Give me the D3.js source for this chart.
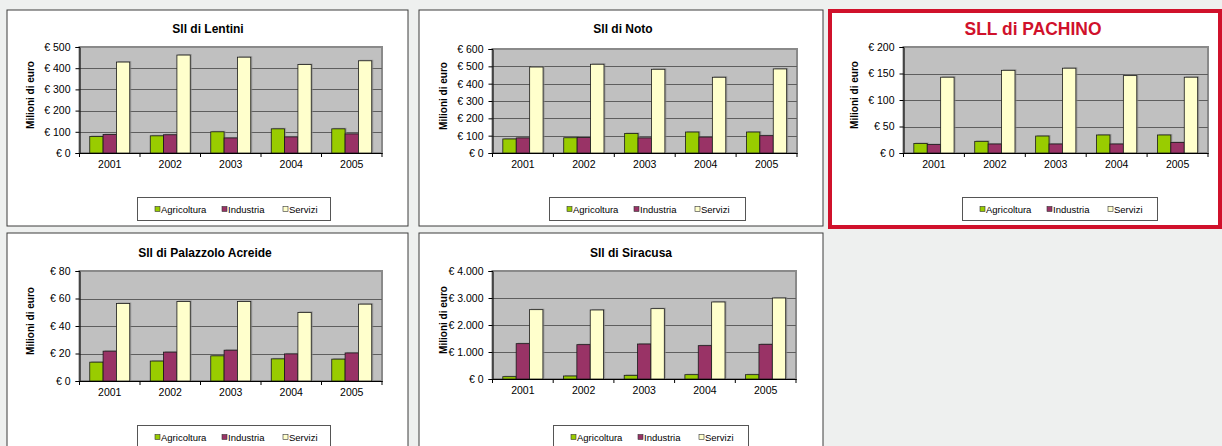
<!DOCTYPE html>
<html>
<head>
<meta charset="utf-8">
<script src="https://cdn.jsdelivr.net/npm/d3@7"></script>
<style>
  html, body { margin: 0; padding: 0; background: #eef0ef; }
  svg { display: block; font-family: "Liberation Sans", Arial, sans-serif; }
</style>
</head>
<body>
<div id="chart"></div>
<script>
// categories and series
const years = ["2001", "2002", "2003", "2004", "2005"];
const seriesNames = ["Agricoltura", "Industria", "Servizi"];
const seriesColors = ["#99cc00", "#993366", "#ffffcc"];

// values (milioni di euro)
const lentiniAgricoltura = [78, 81, 100, 114, 114];
const lentiniIndustria   = [87, 86, 71, 76, 90];
const lentiniServizi     = [429, 462, 452, 417, 435];

const notoAgricoltura = [81, 88, 113, 121, 121];
const notoIndustria   = [87, 90, 87, 92, 100];
const notoServizi     = [496, 512, 483, 437, 485];

const pachinoAgricoltura = [18, 22, 32, 34, 34];
const pachinoIndustria   = [16, 17, 17, 17, 20];
const pachinoServizi     = [143, 156, 160, 146, 143];

const palazzoloAgricoltura = [13.7, 14.5, 18.3, 16.1, 15.9];
const palazzoloIndustria   = [21.7, 21, 22.4, 19.7, 20.4];
const palazzoloServizi     = [56.4, 57.8, 57.8, 49.9, 55.9];

const siracusaAgricoltura = [86, 111, 136, 160, 160];
const siracusaIndustria   = [1309, 1272, 1296, 1235, 1284];
const siracusaServizi     = [2568, 2556, 2605, 2852, 3000];

// tick labels
const lentiniTicks   = [0, 100, 200, 300, 400, 500];
const notoTicks      = [0, 100, 200, 300, 400, 500, 600];
const pachinoTicks   = [0, 50, 100, 150, 200];
const palazzoloTicks = [0, 20, 40, 60, 80];
const siracusaTicks  = [0, 1000, 2000, 3000, 4000];

const titles = ["Sll di Lentini", "Sll di Noto", "SLL di PACHINO", "Sll di Palazzolo Acreide", "Sll di Siracusa"];
const yTitle = "Milioni di euro";

// layout of each panel on the page
const panels = [
  { title: titles[0], values: [lentiniAgricoltura, lentiniIndustria, lentiniServizi], ticks: lentiniTicks,
    box: [7, 10, 401, 216], plot: [79.5, 382, 47, 153], titleX: 208, titleY: 33, legend: [137, 197, 193, 23] },
  { title: titles[1], values: [notoAgricoltura, notoIndustria, notoServizi], ticks: notoTicks,
    box: [419, 10, 404, 216], plot: [492.5, 797, 49, 153], titleX: 623, titleY: 33, legend: [549, 197, 196, 23] },
  { title: titles[2], values: [pachinoAgricoltura, pachinoIndustria, pachinoServizi], ticks: pachinoTicks,
    box: [830, 11, 390, 216], plot: [903.5, 1208, 47, 153], titleX: 1033, titleY: 35, legend: [962, 197, 195, 23], highlight: true },
  { title: titles[3], values: [palazzoloAgricoltura, palazzoloIndustria, palazzoloServizi], ticks: palazzoloTicks,
    box: [7, 233, 401, 216], plot: [79.5, 382, 271, 381], titleX: 205, titleY: 257, legend: [137, 425, 193, 23] },
  { title: titles[4], values: [siracusaAgricoltura, siracusaIndustria, siracusaServizi], ticks: siracusaTicks,
    box: [419, 233, 404, 216], plot: [492.5, 796, 271, 379], titleX: 631, titleY: 257, legend: [553, 425, 195, 23] }
];

const width = 1222, height = 446;
const it = d3.formatLocale({ decimal: ",", thousands: ".", grouping: [3], currency: ["€ ", ""] });
const euro = it.format("$,");

const svg = d3.select("#chart").append("svg")
  .attr("width", width)
  .attr("height", height);

svg.append("rect").attr("width", width).attr("height", height).attr("fill", "#eef0ef");

function drawPanel(p) {
  const g = svg.append("g");
  const [bx, by, bw, bh] = p.box;
  const [x0, x1, y0, y1] = p.plot;

  // panel frame
  g.append("rect")
    .attr("x", bx).attr("y", by).attr("width", bw).attr("height", bh)
    .attr("fill", "#fff")
    .attr("stroke", p.highlight ? "#d0112b" : "#3c3c3c")
    .attr("stroke-width", p.highlight ? 4 : 1);

  // title
  const t = g.append("text")
    .attr("x", p.titleX).attr("y", p.titleY)
    .attr("text-anchor", "middle")
    .attr("font-weight", "bold")
    .text(p.title);
  if (p.highlight) {
    t.attr("font-size", 19).attr("fill", "#d0112b")
      .attr("textLength", 137).attr("lengthAdjust", "spacingAndGlyphs");
  } else {
    t.attr("font-size", 12).attr("fill", "#000");
  }

  const x = d3.scaleBand().domain(years).range([x0, x1]);
  const xs = d3.scaleBand().domain(seriesNames).range([0, x.bandwidth()]).paddingInner(0).paddingOuter(0.77);
  const y = d3.scaleLinear().domain([0, d3.max(p.ticks)]).range([y1, y0]);

  // plot area
  g.append("rect")
    .attr("x", x0).attr("y", y0).attr("width", x1 - x0).attr("height", y1 - y0)
    .attr("fill", "#c0c0c0")
    .attr("stroke", "#8a8a8a")
    .attr("stroke-width", 2);

  // gridlines
  g.append("g").selectAll("line")
    .data(p.ticks.filter(d => d > 0 && d < d3.max(p.ticks)))
    .join("line")
    .attr("x1", x0).attr("x2", x1)
    .attr("y1", d => Math.round(y(d)) + 0.5).attr("y2", d => Math.round(y(d)) + 0.5)
    .attr("stroke", "#5e5e5e")
    .attr("stroke-width", 1);

  // bars
  const rows = years.map((yr, i) => ({ year: yr, vals: seriesNames.map((s, k) => ({ s, k, v: p.values[k][i] })) }));
  const grp = g.append("g").selectAll("g")
    .data(rows)
    .join("g")
    .attr("transform", d => `translate(${x(d.year)},0)`);

  grp.selectAll("rect.shadow")
    .data(d => d.vals)
    .join("rect")
    .attr("class", "shadow")
    .attr("x", d => xs(d.s) + 1.5)
    .attr("y", d => y(d.v) - 1)
    .attr("width", xs.bandwidth())
    .attr("height", d => y1 - y(d.v) + 1)
    .attr("fill", "#8c8c8c")
    .attr("opacity", 0.7);

  grp.selectAll("rect.bar")
    .data(d => d.vals)
    .join("rect")
    .attr("class", "bar")
    .attr("x", d => xs(d.s))
    .attr("y", d => y(d.v))
    .attr("width", xs.bandwidth())
    .attr("height", d => y1 - y(d.v))
    .attr("fill", d => seriesColors[d.k])
    .attr("stroke", "#1a1a1a")
    .attr("stroke-width", 0.8);

  // y axis
  const ya = g.append("g")
    .attr("transform", `translate(${x0},0)`)
    .call(d3.axisLeft(y).tickValues(p.ticks).tickFormat(euro).tickSize(4).tickPadding(5));
  ya.attr("font-size", null).attr("font-family", null);
  ya.select(".domain").attr("stroke", "#000");
  ya.selectAll("text").attr("font-size", 10.5).attr("fill", "#000");

  // x axis
  const xa = g.append("g")
    .attr("transform", `translate(0,${y1})`)
    .call(d3.axisBottom(x).tickSize(0).tickPadding(8));
  xa.attr("font-size", null).attr("font-family", null);
  xa.select(".domain").attr("stroke", "#000").attr("stroke-width", 1.2);
  xa.selectAll("text").attr("font-size", 10.5).attr("fill", "#000");

  // tick marks between categories
  const bounds = years.map(d => x(d)).concat([x1]);
  g.append("g").selectAll("line")
    .data(bounds)
    .join("line")
    .attr("x1", d => d).attr("x2", d => d)
    .attr("y1", y1).attr("y2", y1 + 4)
    .attr("stroke", "#000");

  // y axis title
  g.append("text")
    .attr("transform", `translate(${x0 - 46},${(y0 + y1) / 2 - 5}) rotate(-90)`)
    .attr("text-anchor", "middle")
    .attr("font-size", 10)
    .attr("font-weight", "bold")
    .text(yTitle);

  // legend
  const [lx, ly, lw, lh] = p.legend;
  g.append("rect")
    .attr("x", lx + 0.5).attr("y", ly + 0.5).attr("width", lw).attr("height", lh)
    .attr("fill", "#fff").attr("stroke", "#555");
  const offsets = [18, 85, 146];
  const items = g.append("g").selectAll("g")
    .data(seriesNames)
    .join("g")
    .attr("transform", (d, i) => `translate(${lx + offsets[i]},${ly})`);
  items.append("rect")
    .attr("x", 0).attr("y", 9.5).attr("width", 5).attr("height", 5)
    .attr("fill", (d, i) => seriesColors[i])
    .attr("stroke", "#333").attr("stroke-width", 0.6);
  items.append("text")
    .attr("x", 6).attr("y", 15.5)
    .attr("font-size", 9.5)
    .text(d => d);
}

panels.forEach(drawPanel);
</script>
</body>
</html>
